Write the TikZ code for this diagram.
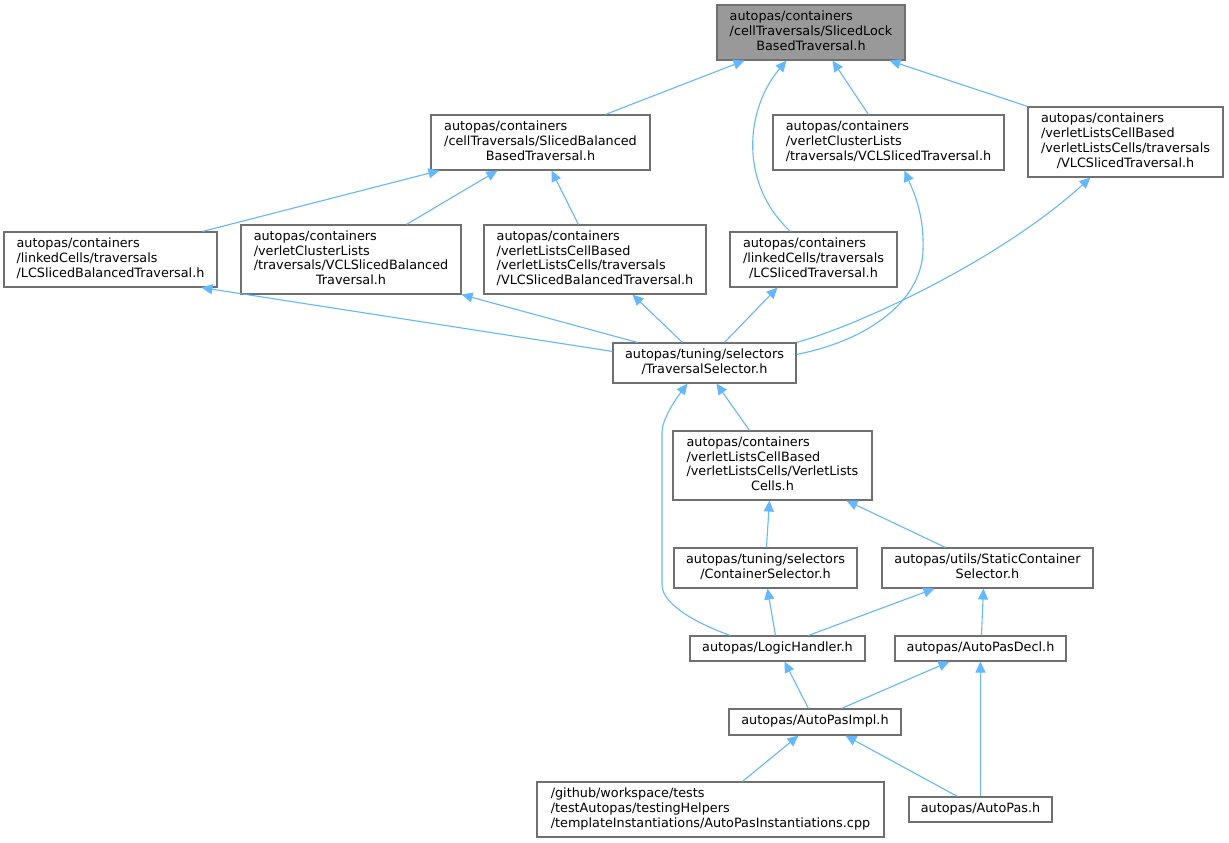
\documentclass[tikz,border=0pt]{standalone}
\usepackage{fontspec}
\setmainfont{DejaVu Sans}
\usetikzlibrary{arrows.meta}
\definecolor{edgec}{HTML}{63B8FF}
\definecolor{boxc}{HTML}{707070}
\definecolor{topfill}{HTML}{999999}
\newcommand{\lastc}[1]{\multicolumn{1}{@{}c@{}}{#1}}
\newcommand{\lbl}[1]{\begin{tabular}{@{}l@{}}#1\end{tabular}}
\tikzset{
  box/.style={draw=boxc, line width=1.1pt, fill=white, inner sep=0pt, align=center,
    font=\fontsize{12.8}{14.8}\selectfont},
  edge/.style={draw=edgec, line width=1.1pt, -{Triangle[length=11pt,width=10pt]}},
}
\begin{document}
\begin{tikzpicture}[x=1pt,y=-1pt]
\useasboundingbox (0,0) rectangle (1229,843);
% nodes
\node[box, fill=topfill, minimum width=188pt, minimum height=55pt] (top) at (811,32.5)
  {\lbl{autopas/containers\\/cellTraversals/SlicedLock\\\lastc{BasedTraversal.h}}};
\node[box, minimum width=219pt, minimum height=55pt] (sbb) at (540.5,142.5)
  {\lbl{autopas/containers\\/cellTraversals/SlicedBalanced\\\lastc{BasedTraversal.h}}};
\node[box, minimum width=231pt, minimum height=55pt] (vcls) at (888.5,142.5)
  {\lbl{autopas/containers\\/verletClusterLists\\/traversals/VCLSlicedTraversal.h}};
\node[box, minimum width=195pt, minimum height=70pt] (vlcs) at (1125.5,142)
  {\lbl{autopas/containers\\/verletListsCellBased\\/verletListsCells/traversals\\\lastc{/VLCSlicedTraversal.h}}};
\node[box, minimum width=213pt, minimum height=55pt] (lcsb) at (110.5,259.5)
  {\lbl{autopas/containers\\/linkedCells/traversals\\/LCSlicedBalancedTraversal.h}};
\node[box, minimum width=220pt, minimum height=69pt] (vclsb) at (351,259.5)
  {\lbl{autopas/containers\\/verletClusterLists\\/traversals/VCLSlicedBalanced\\\lastc{Traversal.h}}};
\node[box, minimum width=222pt, minimum height=69pt] (vlcsb) at (595,259.5)
  {\lbl{autopas/containers\\/verletListsCellBased\\/verletListsCells/traversals\\/VLCSlicedBalancedTraversal.h}};
\node[box, minimum width=167pt, minimum height=55pt] (lcs) at (813.5,259.5)
  {\lbl{autopas/containers\\/linkedCells/traversals\\\lastc{/LCSlicedTraversal.h}}};
\node[box, minimum width=183pt, minimum height=40pt] (ts) at (704.5,363)
  {\lbl{autopas/tuning/selectors\\\lastc{/TraversalSelector.h}}};
\node[box, minimum width=199pt, minimum height=69pt] (vlc) at (772.5,465.5)
  {\lbl{autopas/containers\\/verletListsCellBased\\/verletListsCells/VerletLists\\\lastc{Cells.h}}};
\node[box, minimum width=183pt, minimum height=40pt] (cs) at (765.5,568)
  {\lbl{autopas/tuning/selectors\\\lastc{/ContainerSelector.h}}};
\node[box, minimum width=211pt, minimum height=40pt] (scs) at (987.5,568)
  {\lbl{autopas/utils/StaticContainer\\\lastc{Selector.h}}};
\node[box, minimum width=175pt, minimum height=25pt] (lh) at (777.5,648.5)
  {\lbl{autopas/LogicHandler.h}};
\node[box, minimum width=171pt, minimum height=25pt] (apd) at (980.5,648.5)
  {\lbl{autopas/AutoPasDecl.h}};
\node[box, minimum width=172pt, minimum height=26pt] (api) at (815,722)
  {\lbl{autopas/AutoPasImpl.h}};
\node[box, minimum width=347pt, minimum height=55pt] (inst) at (710.5,809.5)
  {\lbl{/github/workspace/tests\\/testAutopas/testingHelpers\\/templateInstantiations/AutoPasInstantiations.cpp}};
\node[box, minimum width=143pt, minimum height=25pt] (ap) at (980.5,809.5)
  {\lbl{autopas/AutoPas.h}};
% edges (child -> parent, arrow at parent)
\draw[edge] ([xshift=175pt]sbb.north west) -- ([xshift=28pt]top.south west);
\draw[edge] ([xshift=61pt]lcs.north west) .. controls +(-51,-47) and +(-42,50) .. ([xshift=70pt]top.south west);
\draw[edge] ([xshift=96pt]vcls.north west) -- ([xshift=116pt]top.south west);
\draw[edge] (vlcs.north west) -- ([xshift=173pt]top.south west);
\draw[edge] ([xshift=199pt]lcsb.north west) -- ([xshift=9pt]sbb.south west);
\draw[edge] ([xshift=166pt]vclsb.north west) -- ([xshift=67pt]sbb.south west);
\draw[edge] ([xshift=95pt]vlcsb.north west) -- ([xshift=121pt]sbb.south west);
\draw[edge] ([yshift=-9pt]ts.north west) -- ([xshift=198pt]lcsb.south west);
\draw[edge] ([xshift=25pt]ts.north west) -- (vclsb.south east);
\draw[edge] ([xshift=70pt]ts.north west) -- ([xshift=149pt]vlcsb.south west);
\draw[edge] ([xshift=112pt]ts.north west) -- ([xshift=48pt]lcs.south west);
\coordinate (c1) at (923,250);
\draw[edge] ([yshift=-12pt]ts.north east) .. controls (870,340) and (922,300) .. (c1)
  .. controls (924,215) and (915,195) .. ([xshift=132pt]vcls.south west);
\draw[edge] (ts.north east) .. controls (860,325) and (1000,260) .. ([xshift=63pt]vlcs.south west);
\draw[edge] ([xshift=77pt]vlc.north west) -- ([xshift=104pt]ts.south west);
\coordinate (c2) at (662,585);
\coordinate (c3) at (662,432);
\draw[edge] ([xshift=41pt]lh.north west) .. controls (700,625) and (662,605) .. (c2) -- (c3)
  .. controls (662,420) and (675,400) .. ([xshift=75pt]ts.south west);
\draw[edge] ([xshift=93pt]cs.north west) -- ([xshift=97pt]vlc.south west);
\draw[edge] ([xshift=64pt]scs.north west) -- ([xshift=174pt]vlc.south west);
\draw[edge] ([xshift=86pt]lh.north west) -- ([xshift=94pt]cs.south west);
\draw[edge] ([xshift=119pt]lh.north west) -- ([xshift=53pt]scs.south west);
\draw[edge] ([xshift=87pt]apd.north west) -- ([xshift=102pt]scs.south west);
\draw[edge] ([xshift=80pt]api.north west) -- ([xshift=95pt]lh.south west);
\draw[edge] ([xshift=113pt]api.north west) -- ([xshift=55pt]apd.south west);
\draw[edge] ([xshift=206pt]inst.north west) -- ([xshift=70pt]api.south west);
\draw[edge] ([xshift=49pt]ap.north west) -- ([xshift=117pt]api.south west);
\draw[edge] ([xshift=72pt]ap.north west) -- ([xshift=86pt]apd.south west);
\end{tikzpicture}
\end{document}
